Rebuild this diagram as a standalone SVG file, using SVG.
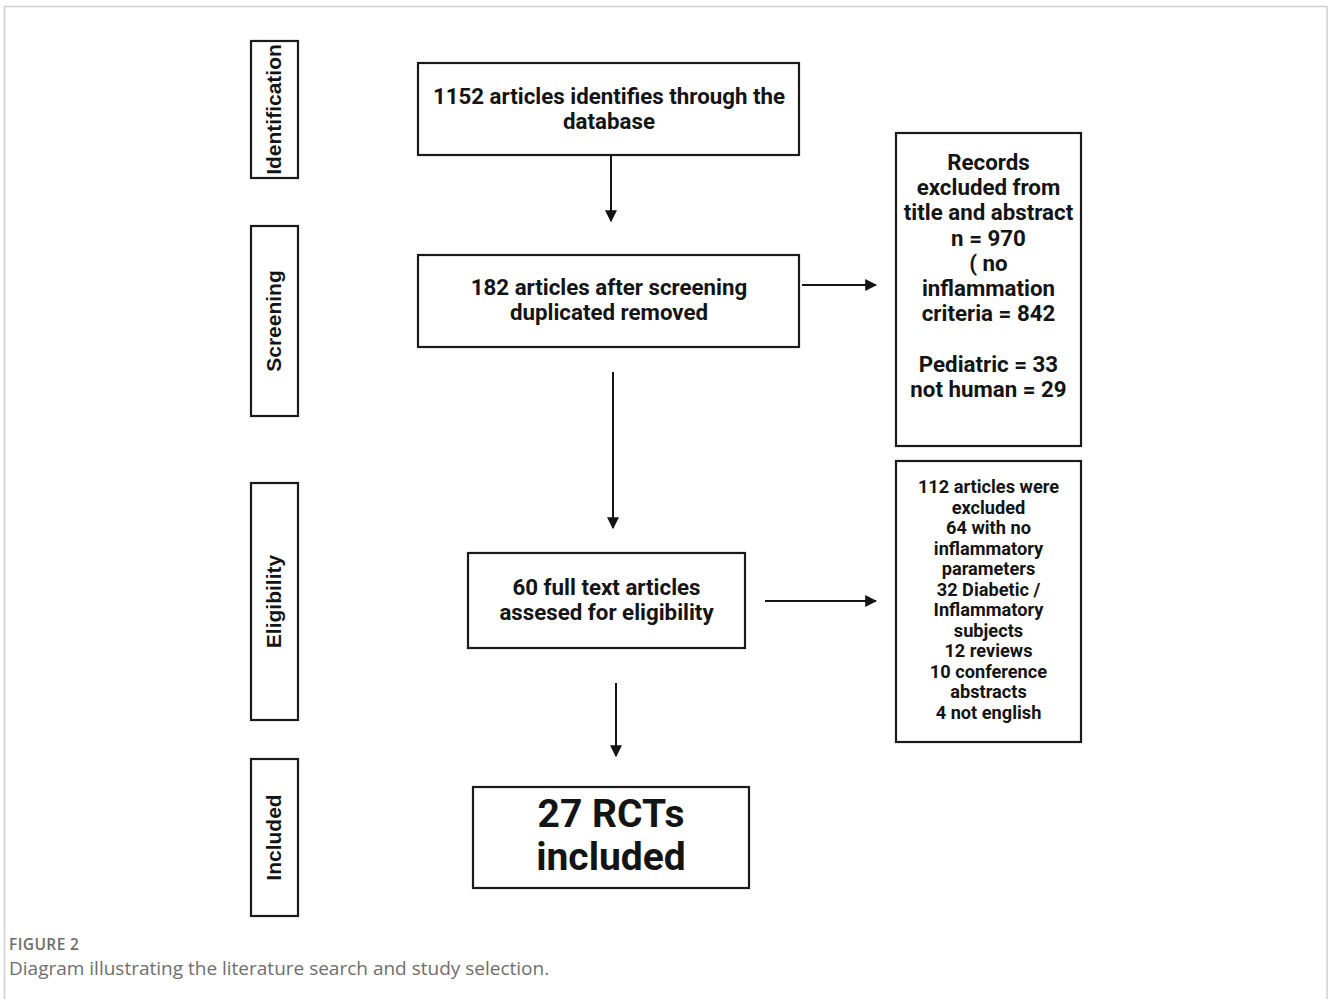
<svg xmlns="http://www.w3.org/2000/svg" width="1328" height="999" viewBox="0 0 1328 999">
<defs>
<style>
.box{fill:#fff;stroke:#1a1a1a;stroke-width:2.2}
.t{font-family:Roboto,"Liberation Sans",sans-serif;font-weight:700;fill:#141414;text-anchor:middle}
.m{font-size:22.3px}
.s{font-size:18.2px}
.side{font-family:"Liberation Sans",Arial,sans-serif;font-weight:700;font-size:21px;fill:#141414;text-anchor:middle}
.con{stroke:#141414;stroke-width:2;fill:none;marker-end:url(#ah)}
.cap{font-family:"Open Sans","Liberation Sans",sans-serif;fill:#6e6e6e}
</style>
<marker id="ah" viewBox="0 0 10 10" refX="9" refY="5" markerWidth="6" markerHeight="6" orient="auto" markerUnits="strokeWidth">
<path d="M0,0 L10,5 L0,10 Z" fill="#141414"/>
</marker>
</defs>
<rect width="1328" height="999" fill="#fff"/>
<path d="M4.5,999 V6.5 H1327 V999" fill="none" stroke="#cfcfcf" stroke-width="1.5"/>

<g id="stage-identification">
<rect class="box" x="251" y="41" width="47" height="137"/>
<text class="side" transform="translate(281,109.5) rotate(-90)">Identification</text>
</g>
<g id="stage-screening">
<rect class="box" x="251" y="226" width="47" height="190"/>
<text class="side" transform="translate(281,321) rotate(-90)">Screening</text>
</g>
<g id="stage-eligibility">
<rect class="box" x="251" y="483" width="47" height="237"/>
<text class="side" transform="translate(281,601.5) rotate(-90)">Eligibility</text>
</g>
<g id="stage-included">
<rect class="box" x="251" y="759" width="47" height="157"/>
<text class="side" transform="translate(281,837.5) rotate(-90)">Included</text>
</g>

<g id="node-identified">
<rect class="box" x="418" y="63" width="381" height="92"/>
<text class="t m" x="609" y="104">1152 articles identifies through the</text>
<text class="t m" x="609" y="129">database</text>
</g>
<g id="node-screened">
<rect class="box" x="418" y="255" width="381" height="92"/>
<text class="t m" x="609" y="295">182 articles after screening</text>
<text class="t m" x="609" y="320">duplicated removed</text>
</g>
<g id="node-excluded-records">
<rect class="box" x="896" y="133" width="185" height="313"/>
<text class="t m" x="988.5" y="170">Records</text>
<text class="t m" x="988.5" y="195">excluded from</text>
<text class="t m" x="988.5" y="220">title and abstract</text>
<text class="t m" x="988.5" y="246">n = 970</text>
<text class="t m" x="988.5" y="271">( no</text>
<text class="t m" x="988.5" y="296">inflammation</text>
<text class="t m" x="988.5" y="321">criteria = 842</text>
<text class="t m" x="988.5" y="372">Pediatric = 33</text>
<text class="t m" x="988.5" y="397">not human = 29</text>
</g>
<g id="node-fulltext">
<rect class="box" x="468" y="553" width="277" height="95"/>
<text class="t m" x="606.5" y="595">60 full text articles</text>
<text class="t m" x="606.5" y="620">assesed for eligibility</text>
</g>
<g id="node-excluded-articles">
<rect class="box" x="896" y="461" width="185" height="281"/>
<text class="t s" x="988.5" y="493">112 articles were</text>
<text class="t s" x="988.5" y="513.5">excluded</text>
<text class="t s" x="988.5" y="534">64 with no</text>
<text class="t s" x="988.5" y="554.5">inflammatory</text>
<text class="t s" x="988.5" y="575">parameters</text>
<text class="t s" x="988.5" y="595.5">32 Diabetic /</text>
<text class="t s" x="988.5" y="616">Inflammatory</text>
<text class="t s" x="988.5" y="636.5">subjects</text>
<text class="t s" x="988.5" y="657">12 reviews</text>
<text class="t s" x="988.5" y="677.5">10 conference</text>
<text class="t s" x="988.5" y="698">abstracts</text>
<text class="t s" x="988.5" y="718.5">4 not english</text>
</g>
<g id="node-included">
<rect class="box" x="473" y="787" width="276" height="101"/>
<text class="t" font-size="39" x="611" y="827">27 RCTs</text>
<text class="t" font-size="39" x="611" y="870">included</text>
</g>

<g id="connectors">
<line class="con" x1="611" y1="155" x2="611" y2="221"/>
<line class="con" x1="802" y1="285" x2="876" y2="285"/>
<line class="con" x1="613" y1="372" x2="613" y2="528"/>
<line class="con" x1="765" y1="601" x2="876" y2="601"/>
<line class="con" x1="616" y1="683" x2="616" y2="756"/>
</g>

<g id="caption">
<text class="cap" x="9" y="950" font-size="15.5" font-weight="600" letter-spacing="0.4">FIGURE 2</text>
<text class="cap" x="9" y="975" font-size="19">Diagram illustrating the literature search and study selection.</text>
</g>
</svg>
